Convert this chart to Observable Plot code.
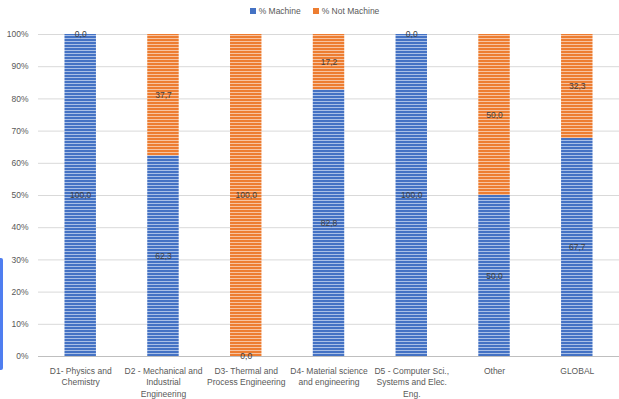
<!DOCTYPE html>
<html>
<head>
<meta charset="utf-8">
<script src="https://cdn.jsdelivr.net/npm/d3@7"></script>
<script src="https://cdn.jsdelivr.net/npm/@observablehq/plot@0.6"></script>
<style>
  html, body { margin: 0; padding: 0; background: #fff; }
  body { width: 619px; height: 399px; position: relative; overflow: hidden; font-family: "Liberation Sans", Arial, sans-serif; }
  #legend { height: 22px; display: flex; justify-content: center; align-items: center; gap: 12px; font-size: 8.5px; color: #595959; padding-left: 10px; }
  #legend span.sw { display: inline-block; width: 6px; height: 6px; margin-right: 3px; vertical-align: 0px; }
  #edge { position: absolute; left: 0; top: 258px; width: 3px; height: 112px; background: #4f7ef0; border-radius: 0 2px 2px 0; }
</style>
</head>
<body>
<div id="legend"></div>
<div id="chart"></div>
<div id="edge"></div>
<script>
const categories = [
  "D1- Physics and\nChemistry",
  "D2 - Mechanical and\nIndustrial\nEngineering",
  "D3- Thermal and\nProcess Engineering",
  "D4- Material science\nand engineering",
  "D5 - Computer Sci.,\nSystems and Elec.\nEng.",
  "Other",
  "GLOBAL"
];
const seriesNames = ["% Machine", "% Not Machine"];
const machine = [100.0, 62.3, 0.0, 82.8, 100.0, 50.0, 67.7];
const notMachine = [0.0, 37.7, 100.0, 17.2, 0.0, 50.0, 32.3];
const yTicks = [0, 10, 20, 30, 40, 50, 60, 70, 80, 90, 100];

const colors = ["#4472C4", "#ED7D31"];
const patterns = ["url(#stripeBlue)", "url(#stripeOrange)"];

const data = [];
categories.forEach((c, i) => {
  data.push({cat: c, series: seriesNames[0], value: machine[i]});
  data.push({cat: c, series: seriesNames[1], value: notMachine[i]});
});

const fmt = v => v.toFixed(1).replace(".", ",");
const FONT = "'Liberation Sans', Arial, sans-serif";

const chart = Plot.plot({
  width: 619,
  height: 377,
  marginTop: 12,
  marginBottom: 43,
  marginLeft: 38,
  marginRight: 0,
  style: {fontFamily: FONT, fontSize: "8.5px", color: "#595959", background: "white"},
  x: {domain: categories, label: null, paddingInner: 0.62, paddingOuter: 0.32, round: false},
  y: {domain: [0, 100], label: null},
  color: {type: "ordinal", domain: seriesNames, range: patterns},
  marks: [
    Plot.gridY(yTicks, {stroke: "#d9d9d9", strokeOpacity: 1, strokeWidth: 1}),
    Plot.axisY(yTicks, {tickFormat: d => d + "%", tickSize: 0, tickPadding: 10, fill: "#595959", fontSize: 8.5}),
    Plot.axisX({tickSize: 0, tickPadding: 9, lineHeight: 1.35, fill: "#595959", fontSize: 8.5}),
    Plot.barY(data, {x: "cat", y: "value", fill: "series", order: seriesNames}),
    Plot.ruleY([0], {stroke: "#bfbfbf", strokeWidth: 1}),
    Plot.text(data, Plot.stackY({x: "cat", y: "value", z: "series", order: seriesNames, text: d => fmt(d.value), fill: "#404040", fontSize: 8.5}))
  ]
});

const defs = `<defs>
<pattern id="stripeBlue" patternUnits="userSpaceOnUse" width="4" height="3">
  <rect width="4" height="3" fill="#4472C4"/>
  <rect y="1" width="4" height="1" fill="#a9bfe6"/>
</pattern>
<pattern id="stripeOrange" patternUnits="userSpaceOnUse" width="4" height="3">
  <rect width="4" height="3" fill="#ED7D31"/>
  <rect y="1" width="4" height="1" fill="#f7c3a0"/>
</pattern>
</defs>`;
chart.insertAdjacentHTML("afterbegin", defs);
document.getElementById("chart").appendChild(chart);

const legend = document.getElementById("legend");
seriesNames.forEach((s, i) => {
  const item = document.createElement("div");
  item.innerHTML = `<span class="sw" style="background:${colors[i]}"></span>${s}`;
  legend.appendChild(item);
});
</script>
</body>
</html>
